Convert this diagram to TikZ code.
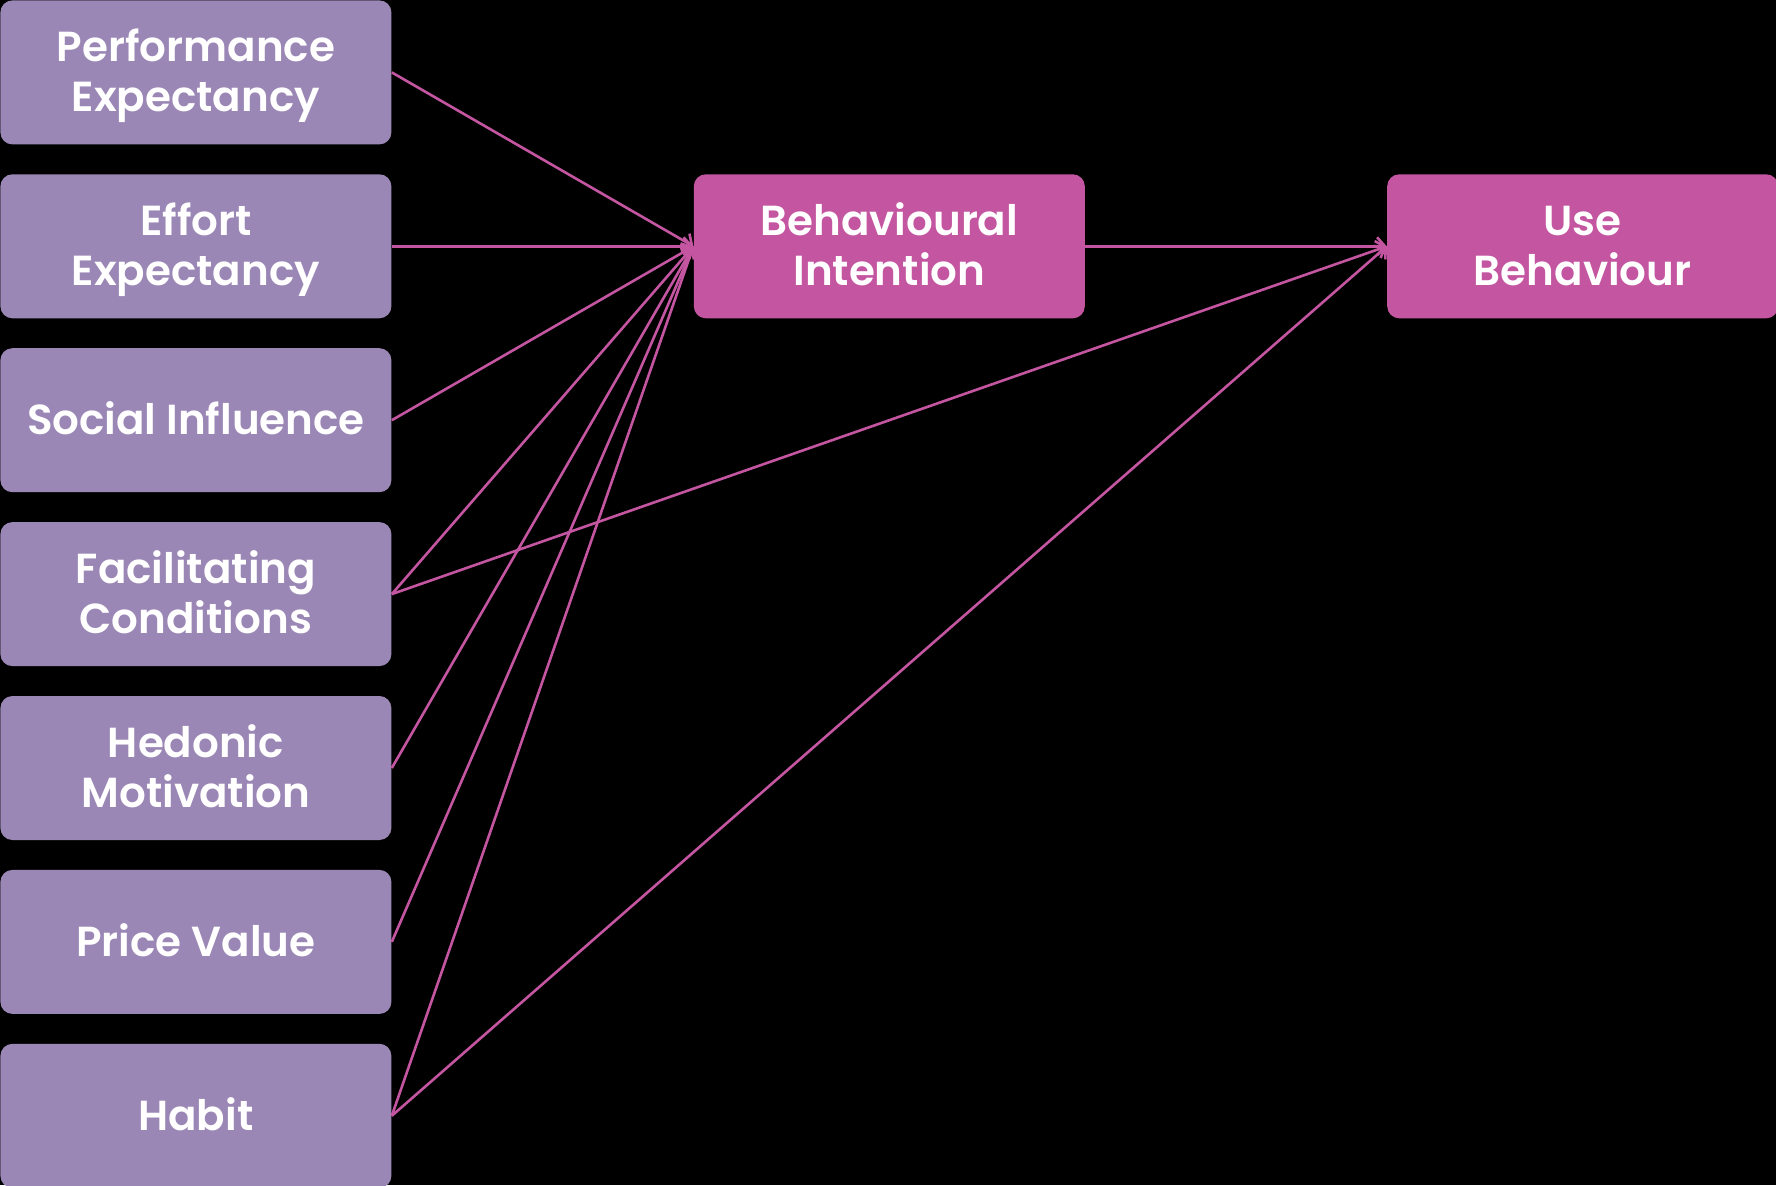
\documentclass[tikz,border=0pt]{standalone}
\usepackage{fontspec}
\setmainfont{Poppins}[UprightFont=* SemiBold]
\usetikzlibrary{arrows.meta,positioning}
\definecolor{factorcol}{HTML}{9B87B5}
\definecolor{goalcol}{HTML}{C455A0}
\newcommand\topstrut{\rule{0pt}{20.5pt}}
\newcommand\botstrut{\rule[-6pt]{0pt}{6pt}}
\newcommand\twolines[2]{\topstrut#1\\#2\botstrut}

\begin{document}
\begin{tikzpicture}[
  x=0.5pt, y=-0.5pt,
  font=\fontsize{21}{25}\selectfont,
  >={Straight Barb[length=4pt, width=9pt]},
  box/.style={rounded corners=6pt, align=center, text=white, minimum width=195.5pt, minimum height=72pt, inner sep=0pt,
    execute at begin node=\topstrut, execute at end node=\botstrut},
  factor/.style={box, fill=factorcol},
  goal/.style={box, fill=goalcol},
  link/.style={->, draw=goalcol, line width=1.3pt},
  node distance=14.55pt and 150.8pt,
]
  % background
  \fill[black] (0,0) rectangle (1776,1185);
  \useasboundingbox (0,0) rectangle (1776,1185);

  % ---------------- predictors ----------------
  \node[factor, anchor=north west] (pe) at (0,0) {\twolines{Performance}{Expectancy}};
  \node[factor, below=of pe] (ee) {\twolines{Effort}{Expectancy}};
  \node[factor, below=of ee] (si) {Social Influence};
  \node[factor, below=of si] (fc) {\twolines{Facilitating}{Conditions}};
  \node[factor, below=of fc] (hm) {\twolines{Hedonic}{Motivation}};
  \node[factor, below=of hm] (pv) {Price Value};
  \node[factor, below=of pv] (hab) {Habit};

  % ---------------- outcomes ----------------
  \node[goal, right=of ee] (bi) {\twolines{Behavioural}{Intention}};
  \node[goal, right=of bi] (ub) {\twolines{Use}{Behaviour}};

  \foreach \src in {pe,ee,si,fc,hm,pv,hab}
    \draw[link] (\src.east) -- (bi.west);
  \draw[link] (bi) -- (ub);
  \draw[link] (fc.east) -- (ub.west);
  \draw[link] (hab.east) -- (ub.west);
\end{tikzpicture}
\end{document}
